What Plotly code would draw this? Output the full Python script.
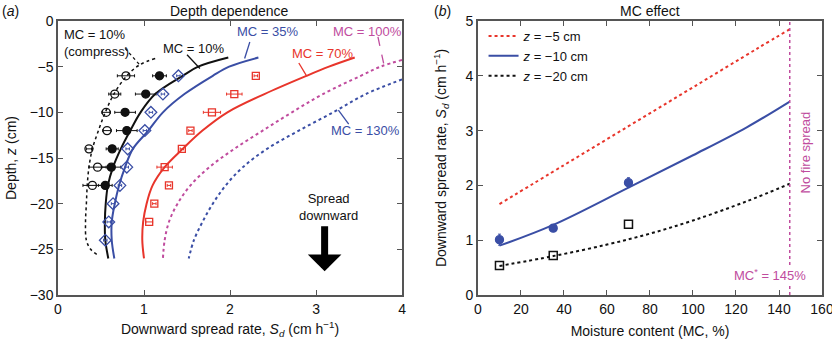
import plotly.graph_objects as go

# ---------------- Panel (a): depth dependence ----------------
pt_depth = [-6, -8, -10, -12, -14, -16, -18]
compress_S = [0.79, 0.66, 0.56, 0.57, 0.36, 0.46, 0.40]
compress_err = [0.10, 0.07, 0.05, 0.05, 0.03, 0.10, 0.11]
mc10_pt_S = [1.18, 1.02, 0.78, 0.80, 0.63, 0.62, 0.55]
mc10_pt_err = [0.08, 0.12, 0.12, 0.12, 0.07, 0.11, 0.08]

dia_depth = [-6, -8, -10, -12, -14, -16, -18, -20, -22, -24]
mc35_pt_S = [1.40, 1.22, 1.08, 1.01, 0.81, 0.80, 0.72, 0.64, 0.59, 0.55]
mc35_pt_err = [0.02, 0.02, 0.02, 0.02, 0.02, 0.02, 0.02, 0.02, 0.02, 0.02]

sq_depth = [-6, -8, -10, -12, -14, -16, -18, -20, -22]
mc70_pt_S = [2.30, 2.05, 1.79, 1.54, 1.44, 1.24, 1.29, 1.12, 1.06]
mc70_pt_err = [0.02, 0.09, 0.10, 0.02, 0.02, 0.09, 0.02, 0.02, 0.04]

curve_z = [-4, -5, -6, -8, -10, -12, -14, -16, -18, -20, -22, -24, -26]
mc10_S = [1.98, 1.63, 1.45, 1.13, 0.96, 0.84, 0.73, 0.64, 0.58, 0.555, 0.545, 0.55, 0.585]
mc35_S = [2.33, 1.99, 1.80, 1.47, 1.22, 1.05, 0.87, 0.78, 0.71, 0.66, 0.625, 0.625, 0.655]
mc70_S = [3.45, 3.15, 2.89, 2.40, 1.97, 1.68, 1.45, 1.24, 1.10, 1.03, 0.99, 0.98, 1.00]
mc100_z = [-4.27, -5, -6, -8, -10, -12, -14, -16, -18, -20, -22, -24, -26]
mc100_S = [4.0, 3.75, 3.52, 3.08, 2.72, 2.38, 2.05, 1.76, 1.54, 1.39, 1.29, 1.24, 1.22]
mc130_z = [-6.4, -8, -10, -12, -14, -16, -18, -20, -22, -24, -26]
mc130_S = [4.0, 3.58, 3.20, 2.80, 2.43, 2.15, 1.95, 1.80, 1.68, 1.58, 1.52]
comp_z = [-4.1, -4.8, -6, -8, -10, -12, -14, -16, -18, -20, -22, -24, -25, -25.6]
comp_S = [1.13, 0.95, 0.80, 0.65, 0.55, 0.47, 0.40, 0.36, 0.34, 0.33, 0.32, 0.33, 0.38, 0.46]

# ---------------- Panel (b): MC effect ----------------
z5_mc = [10, 40, 70, 100, 130, 145]
z5_S = [1.66, 2.37, 3.08, 3.79, 4.50, 4.85]
z10_mc = [10, 35, 70, 100, 125, 145]
z10_S = [0.90, 1.28, 1.96, 2.55, 3.06, 3.53]
z20_mc = [10, 35, 60, 80, 100, 125, 145]
z20_S = [0.53, 0.71, 0.92, 1.12, 1.36, 1.71, 2.03]
meas_mc = [10, 35, 70]
meas10_S = [1.01, 1.22, 2.05]
meas10_err = [0.10, 0.03, 0.09]
meas20_S = [0.54, 0.72, 1.29]
mc_crit = 145

RED = "#e8352b"
BLUE = "#3a4ea5"
MAG = "#c04c9e"
BLK = "#111111"
FONT = "Liberation Sans, Arial, sans-serif"

fig = go.Figure()

def curve(x, y, color, dash, xa="x", ya="y", name=None, show=False, width=2):
    fig.add_trace(go.Scatter(x=x, y=y, mode="lines", line=dict(color=color, dash=dash, width=width, shape="spline"),
                             xaxis=xa, yaxis=ya, name=name, showlegend=show, hoverinfo="skip"))

# left curves
curve(comp_S, comp_z, BLK, "dot", width=1.5)
curve(mc10_S, curve_z, BLK, "solid")
curve(mc35_S, curve_z, BLUE, "solid")
curve(mc70_S, curve_z, RED, "solid")
curve(mc100_S, mc100_z, MAG, "dot")
curve(mc130_S, mc130_z, BLUE, "dot")

def pts(x, y, err, color, symbol, size, xa="x", ya="y", vert=False):
    e = dict(type="data", array=err, color=color, thickness=1, width=1.5)
    fig.add_trace(go.Scatter(x=x, y=y, mode="markers",
                             marker=dict(symbol=symbol, size=size, color=color, line=dict(color=color, width=1.3)),
                             error_x=None if vert else e, error_y=e if vert else None,
                             xaxis=xa, yaxis=ya, showlegend=False, hoverinfo="skip"))

pts(compress_S, pt_depth, compress_err, BLK, "circle-open", 8)
pts(mc10_pt_S, pt_depth, mc10_pt_err, BLK, "circle", 8)
pts(mc35_pt_S, dia_depth, mc35_pt_err, BLUE, "diamond-open", 9)
pts(mc70_pt_S, sq_depth, mc70_pt_err, RED, "square-open", 7)

# right curves
curve(z5_mc, z5_S, RED, "dot", "x2", "y2", "<i>z</i> = −5 cm", True)
curve(z10_mc, z10_S, BLUE, "solid", "x2", "y2", "<i>z</i> = −10 cm", True)
curve(z20_mc, z20_S, BLK, "dot", "x2", "y2", "<i>z</i> = −20 cm", True)
pts(meas_mc, meas10_S, meas10_err, BLUE, "circle", 8, "x2", "y2", vert=True)
fig.add_trace(go.Scatter(x=meas_mc, y=meas20_S, mode="markers",
                         marker=dict(symbol="square-open", size=8, color=BLK, line=dict(color=BLK, width=1.5)),
                         xaxis="x2", yaxis="y2", showlegend=False, hoverinfo="skip"))
fig.add_trace(go.Scatter(x=[mc_crit, mc_crit], y=[0, 5], mode="lines", line=dict(color=MAG, dash="dot", width=1.5),
                         xaxis="x2", yaxis="y2", showlegend=False, hoverinfo="skip"))

axis_common = dict(showline=True, linecolor="#555", linewidth=1.5, mirror="ticks", ticks="inside",
                   ticklen=5, tickcolor="#555", showgrid=False, zeroline=False, automargin=False,
                   ticklabeloverflow="allow", tickfont=dict(size=14, color="#111"))
TF = dict(size=14, color="#111", family=FONT)

fig.update_layout(
    width=832, height=339,
    margin=dict(l=58, r=10, t=21, b=44),
    paper_bgcolor="white", plot_bgcolor="white",
    font=dict(family=FONT, size=14, color="#111"),
    xaxis=dict(domain=[0, 0.4503], range=[0, 4], tickvals=[0, 1, 2, 3, 4], anchor="y",
               title=dict(text="Downward spread rate, <i>S<sub>d</sub></i> (cm h<sup>−1</sup>)", standoff=13, font=TF), **axis_common),
    yaxis=dict(domain=[0, 1], range=[-30, 0], tickvals=[0, -5, -10, -15, -20, -25, -30], anchor="x",
               title=dict(text="Depth, <i>z</i> (cm)", standoff=10, font=TF), **axis_common),
    xaxis2=dict(domain=[0.5497, 1], range=[0, 160], tickvals=list(range(0, 161, 20)), anchor="y2",
                title=dict(text="Moisture content (MC, %)", standoff=26, font=TF), **axis_common),
    yaxis2=dict(domain=[0, 1], range=[0, 5], tickvals=[0, 1, 2, 3, 4, 5], anchor="x2",
                title=dict(text="Downward spread rate, <i>S<sub>d</sub></i> (cm h<sup>−1</sup>)", standoff=16, font=TF), **axis_common),
    legend=dict(x=0.557, y=1.0, xanchor="left", yanchor="top", bgcolor="rgba(0,0,0,0)",
                font=dict(size=13), tracegroupgap=0, itemwidth=30),
)

ann = []
def txt(x, y, t, color=BLK, size=13, xref="x", yref="y", **kw):
    ann.append(dict(x=x, y=y, text=t, xref=xref, yref=yref, showarrow=False,
                    font=dict(size=size, color=color, family=FONT), **kw))

# panel titles
txt(0.0, 1.0, "(<i>a</i>)", size=14, xref="paper", yref="paper", xanchor="left", yanchor="bottom", xshift=-58)
txt(0.225, 1.0, "Depth dependence", size=14, xref="paper", yref="paper", xanchor="center", yanchor="bottom")
txt(0.5497, 1.0, "(<i>b</i>)", size=14, xref="paper", yref="paper", xanchor="left", yanchor="bottom", xshift=-46)
txt(0.775, 1.0, "MC effect", size=14, xref="paper", yref="paper", xanchor="center", yanchor="bottom")

# panel (a) labels
txt(0.02, -2.4, "MC = 10%<br>(compress)", xanchor="left", align="left", xshift=2)
txt(1.58, -3.0, "MC = 10%", xanchor="center")
txt(2.43, -1.2, "MC = 35%", color=BLUE, xanchor="center")
txt(3.07, -3.55, "MC = 70%", color=RED, xanchor="center")
txt(3.6, -1.15, "MC = 100%", color=MAG, xanchor="center")
txt(3.58, -12.0, "MC = 130%", color=BLUE, xanchor="center")
txt(3.14, -20.4, "Spread<br>downward", xanchor="center")

# panel (b) labels
txt(152.5, 2.6, "No fire spread", color=MAG, xref="x2", yref="y2", textangle=-90, xanchor="center")
txt(136, 0.37, "MC<sup>*</sup> = 145%", color=MAG, xref="x2", yref="y2", bgcolor="white", xanchor="center")

# spread arrow
ann.append(dict(x=3.1, y=-27.4, ax=3.1, ay=-22.3, xref="x", yref="y", axref="x", ayref="y", text="",
                showarrow=True, arrowhead=1, arrowwidth=7, arrowsize=0.8, arrowcolor="black"))
fig.update_layout(annotations=ann)

# leader lines
def lead(x0, y0, x1, y1, color, dash="solid"):
    fig.add_shape(type="line", x0=x0, y0=y0, x1=x1, y1=y1, xref="x", yref="y",
                  line=dict(color=color, width=1.3, dash=dash))

lead(0.78, -3.0, 0.95, -4.8, BLK, "dot")
lead(1.50, -3.7, 1.65, -5.2, BLK)
lead(2.23, -2.3, 2.17, -4.1, BLUE)
lead(2.80, -4.6, 2.89, -6.0, RED)
lead(3.72, -1.75, 3.79, -4.8, MAG, "dash")
lead(3.26, -9.75, 3.38, -11.3, BLUE)

fig.write_html("out.html", config={"displayModeBar": False},
               post_script="document.body.style.margin='0';")
